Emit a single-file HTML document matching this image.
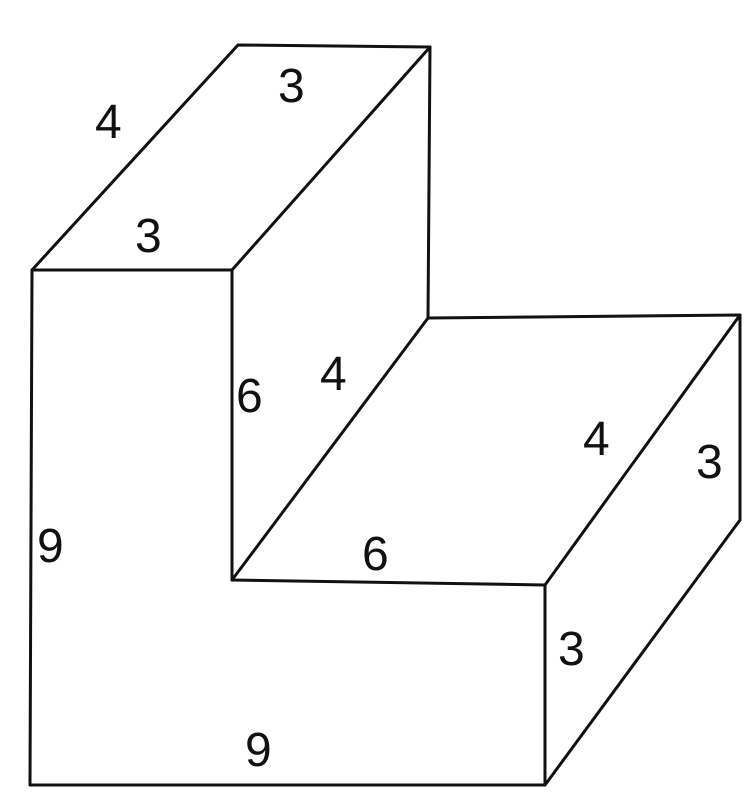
<!DOCTYPE html>
<html><head><meta charset="utf-8"><style>
html,body{margin:0;padding:0;background:#fff;}
svg{display:block;}
text{font-family:"Liberation Sans",sans-serif;font-size:48px;fill:#111;}
</style></head><body>
<svg width="749" height="809" viewBox="0 0 749 809" xmlns="http://www.w3.org/2000/svg">
<g stroke="#111" stroke-width="3" fill="none" stroke-linejoin="round" stroke-linecap="round">
<polygon points="32,270 232,270 232,580 545,585 545,785 30,785"/>
<polyline points="32,270 238,45 430,47 232,270"/>
<polyline points="430,47 428,318 232,580"/>
<polyline points="428,318 740,315 545,585"/>
<polyline points="740,315 740,520 545,785"/>
</g>
<text x="95" y="138">4</text>
<text x="278" y="102">3</text>
<text x="135" y="252">3</text>
<text x="236" y="412">6</text>
<text x="320" y="390">4</text>
<text x="583" y="455">4</text>
<text x="696" y="478">3</text>
<text x="362" y="570">6</text>
<text x="558" y="665">3</text>
<text x="37" y="562">9</text>
<text x="245" y="766">9</text>
</svg>
</body></html>
